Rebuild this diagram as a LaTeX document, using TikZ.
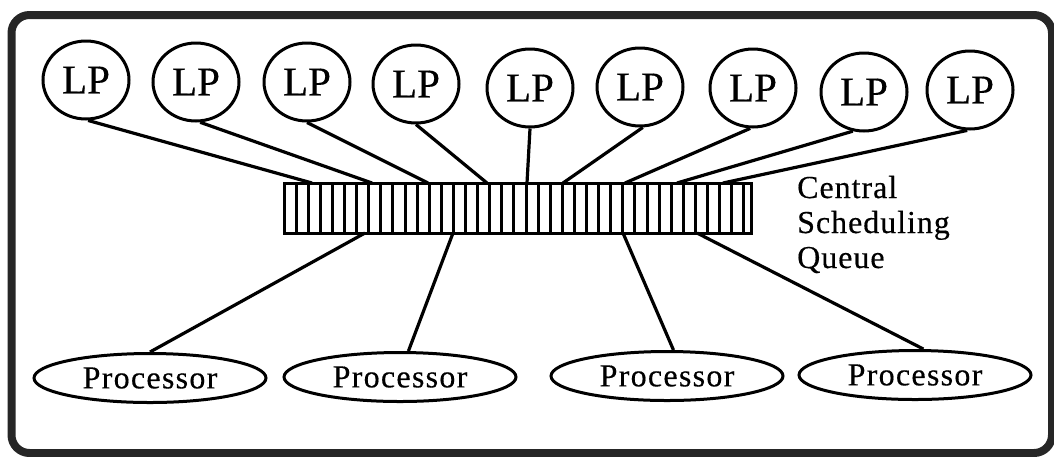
\documentclass[tikz,border=0pt]{standalone}
\usepackage{fontspec}
\setmainfont[FakeBold=0.4]{Liberation Serif}
\usetikzlibrary{shapes.geometric}
\begin{document}
\begin{tikzpicture}[x=1pt,y=-1pt,
  frame/.style={draw=black!85, line width=8pt, rounded corners=18pt},
  lp/.style={ellipse, draw, line width=3pt, minimum width=86pt, minimum height=78pt, inner sep=0pt,
    font=\fontsize{41}{41}\selectfont},
  proc/.style={ellipse, draw, line width=3pt, minimum width=232pt, minimum height=49pt, inner sep=0pt,
    font=\fontsize{32}{32}\selectfont\addfontfeatures{LetterSpace=4}},
  queuebox/.style={draw, line width=3pt, minimum width=467pt, minimum height=50pt, inner sep=0pt, outer sep=0pt},
  cell/.style={line width=3pt},
  conn/.style={line width=3.2pt},
  lbl/.style={inner sep=0pt, font=\fontsize{32}{35}\selectfont\addfontfeatures{LetterSpace=3}}]
\useasboundingbox (0,0) rectangle (1054,456);
\draw[frame] (11.5,15) rectangle (1052,453);

% LP nodes
\node[lp] (lp1) at (86,80) {LP};
\node[lp] (lp2) at (196,82) {LP};
\node[lp] (lp3) at (307,82) {LP};
\node[lp] (lp4) at (416,84) {LP};
\node[lp] (lp5) at (530,88) {LP};
\node[lp] (lp6) at (640,87) {LP};
\node[lp] (lp7) at (753,88) {LP};
\node[lp] (lp8) at (864,92) {LP};
\node[lp] (lp9) at (970,90) {LP};

% queue
\node[queuebox] (queue) at (517.5,208) {};
\foreach \k in {1,...,38}
  \draw[cell] ([xshift=\k*12.1pt]queue.north west) -- ([xshift=\k*12.1pt]queue.south west);

\coordinate (qt1) at (312,183);
\coordinate (qt2) at (372,183);
\coordinate (qt3) at (428,183);
\coordinate (qt4) at (487,183);
\coordinate (qt5) at (527,183);
\coordinate (qt6) at (563,183);
\coordinate (qt7) at (625,183);
\coordinate (qt8) at (677,183);
\coordinate (qt9) at (723,183);
\coordinate (qb1) at (365,233);
\coordinate (qb2) at (453,233);
\coordinate (qb3) at (623,233);
\coordinate (qb4) at (697,233);

\node[lbl, anchor=base west] (label) at (797,198)
  {\begin{tabular}[t]{@{}l@{}}Central\\Scheduling\\Queue\end{tabular}};

% processors
\node[proc] (p1) at (150,378) {Processor};
\node[proc] (p2) at (400,377) {Processor};
\node[proc] (p3) at (667,376) {Processor};
\node[proc] (p4) at (915,375) {Processor};

% connectors
\draw[conn] (lp1.273) -- (qt1);
\draw[conn] (lp2.276) -- (qt2);
\draw[conn] (lp3.south) -- (qt3);
\draw[conn] (lp4.south) -- (qt4);
\draw[conn] (lp5.south) -- (qt5);
\draw[conn] (lp6.274) -- (qt6);
\draw[conn] (lp7.266) -- (qt7);
\draw[conn] (lp8.254) -- (qt8);
\draw[conn] (lp9.266) -- (qt9);

\draw[conn] (qb1) -- (p1.north);
\draw[conn] (qb2) -- (p2.72);
\draw[conn] (qb3) -- (p3.76);
\draw[conn] (qb4) -- (p4.72);
\end{tikzpicture}
\end{document}
